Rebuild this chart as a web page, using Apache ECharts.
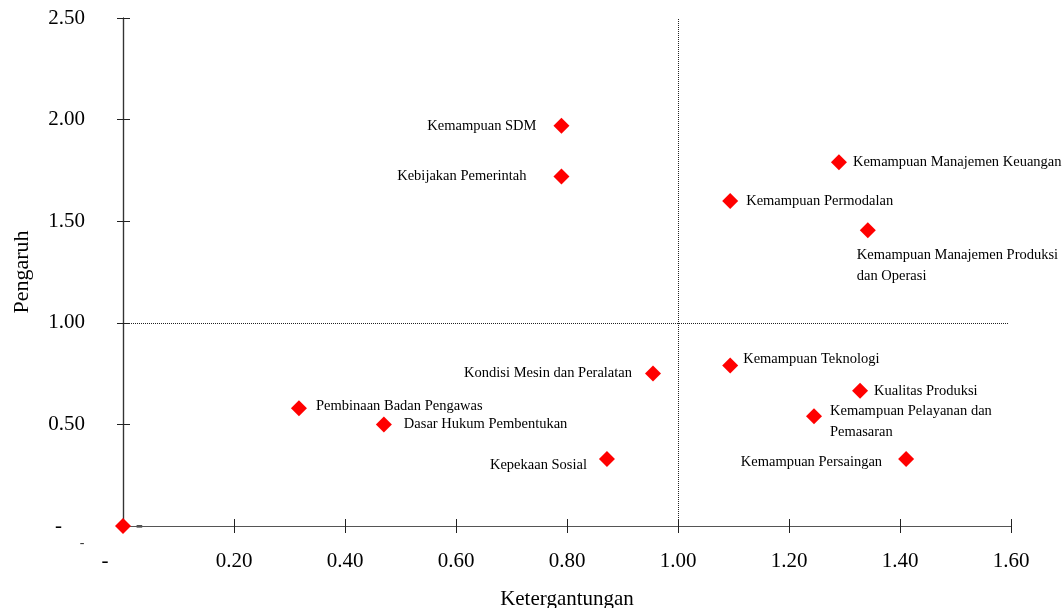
<!DOCTYPE html>
<html>
<head>
<meta charset="utf-8">
<script src="https://cdn.jsdelivr.net/npm/echarts@6/dist/echarts.min.js"></script>
<style>
html,body{margin:0;padding:0;background:#fff;}
#main{width:1063px;height:608px;}
</style>
</head>
<body>
<div id="main"></div>
<script>
// data
var names = [
	'Kemampuan SDM',
	'Kebijakan Pemerintah',
	'Kemampuan Manajemen Keuangan',
	'Kemampuan Permodalan',
	'Kemampuan Manajemen Produksi\ndan Operasi',
	'Kondisi Mesin dan Peralatan',
	'Kemampuan Teknologi',
	'Kualitas Produksi',
	'Kemampuan Pelayanan dan\nPemasaran',
	'Kemampuan Persaingan',
	'Pembinaan Badan Pengawas',
	'Dasar Hukum Pembentukan',
	'Kepekaan Sosial'
];
var ketergantungan = [0.79, 0.79, 1.29, 1.094, 1.342, 0.955, 1.094, 1.328, 1.245, 1.411, 0.317, 0.47, 0.872];
var pengaruh = [1.97, 1.72, 1.79, 1.60, 1.455, 0.75, 0.79, 0.665, 0.54, 0.33, 0.58, 0.50, 0.33];
var xTicks = [0, 0.2, 0.4, 0.6, 0.8, 1.0, 1.2, 1.4, 1.6];
var yTicks = [0, 0.5, 1.0, 1.5, 2.0, 2.5];

// label placement per point (style, not data)
var labelPlace = {
	'Kemampuan SDM': {position: 'left', distance: 17},
	'Kebijakan Pemerintah': {position: 'left', distance: 27},
	'Kemampuan Manajemen Keuangan': {position: 'right', distance: 6},
	'Kemampuan Permodalan': {position: 'right', distance: 8},
	'Kemampuan Manajemen Produksi\ndan Operasi': {position: [-3, 22], align: 'left', verticalAlign: 'top'},
	'Kondisi Mesin dan Peralatan': {position: 'left', distance: 13},
	'Kemampuan Teknologi': {position: 'right', distance: 5, offset: [0, -6]},
	'Kualitas Produksi': {position: 'right', distance: 6},
	'Kemampuan Pelayanan dan\nPemasaran': {position: 'right', distance: 8, offset: [0, 5]},
	'Kemampuan Persaingan': {position: 'left', distance: 16, offset: [0, 3]},
	'Pembinaan Badan Pengawas': {position: 'right', distance: 9, offset: [0, -2]},
	'Dasar Hukum Pembentukan': {position: 'right', distance: 12},
	'Kepekaan Sosial': {position: 'left', distance: 12, offset: [0, 6]}
};

var FONT = '"Liberation Serif", "DejaVu Serif", serif';

var points = [];
for (var i = 0; i < names.length; i++) {
	var lp = labelPlace[names[i]];
	var lab = {show: true};
	for (var k in lp) lab[k] = lp[k];
	points.push({name: names[i], value: [ketergantungan[i], pengaruh[i]], label: lab});
}
// titik asal (0,0)
points.push({name: '', value: [0, 0], label: {show: true, position: 'right', distance: 5, offset: [0, 2], formatter: '=', fontSize: 12, color: '#111'}});

var option = {
	animation: false,
	grid: {left: 123, right: 52, top: 18, bottom: 82, containLabel: false, outerBoundsMode: 'none'},
	xAxis: [{
		type: 'value',
		min: xTicks[0],
		max: xTicks[xTicks.length - 1],
		interval: 0.2,
		name: 'Ketergantungan',
		nameLocation: 'middle',
		nameGap: 63,
		nameTextStyle: {fontFamily: FONT, fontSize: 21, color: '#000'},
		axisLine: {show: true, onZero: false, lineStyle: {color: '#555', width: 1.2}},
		axisTick: {show: true, length: 7, lineStyle: {color: '#222'}},
		axisLabel: {
			margin: 25,
			fontFamily: FONT, fontSize: 21, color: '#000',
			formatter: function (v) { return v === 0 ? '{z|-}' : v.toFixed(2); },
			rich: {z: {fontFamily: FONT, fontSize: 21, color: '#000', padding: [0, 36, 0, 0]}}
		},
		splitLine: {show: false}
	}, {
		type: 'value',
		position: 'bottom',
		offset: 0,
		min: xTicks[0],
		max: xTicks[xTicks.length - 1],
		interval: 0.2,
		axisLine: {show: true, onZero: false, lineStyle: {color: '#555', width: 1.2}},
		axisTick: {show: true, inside: true, length: 7, lineStyle: {color: '#222'}},
		axisLabel: {show: false},
		splitLine: {show: false}
	}],
	yAxis: [{
		type: 'value',
		min: yTicks[0],
		max: yTicks[yTicks.length - 1],
		interval: 0.5,
		name: 'Pengaruh',
		nameLocation: 'middle',
		nameGap: 90,
		nameRotate: 90,
		nameTextStyle: {fontFamily: FONT, fontSize: 22, color: '#000'},
		axisLine: {show: true, onZero: false, lineStyle: {color: '#333', width: 1.2}},
		axisTick: {show: true, length: 6, lineStyle: {color: '#222'}},
		axisLabel: {
			margin: 38,
			fontFamily: FONT, fontSize: 21, color: '#000',
			formatter: function (v) { return v === 0 ? '{z|-}' : v.toFixed(2); },
			rich: {z: {fontFamily: FONT, fontSize: 21, color: '#000', padding: [0, 23, 0, 0]}}
		},
		splitLine: {show: false}
	}, {
		type: 'value',
		position: 'left',
		offset: 0,
		min: yTicks[0],
		max: yTicks[yTicks.length - 1],
		interval: 0.5,
		axisLine: {show: true, onZero: false, lineStyle: {color: '#333', width: 1.2}},
		axisTick: {show: true, inside: true, length: 7, lineStyle: {color: '#222'}},
		axisLabel: {show: false},
		splitLine: {show: false}
	}],
	series: [{
		type: 'scatter',
		symbol: 'diamond',
		symbolSize: 16,
		clip: false,
		itemStyle: {color: '#ff0000', opacity: 1},
		label: {
			formatter: '{b}',
			fontFamily: FONT,
			fontSize: 14.5,
			lineHeight: 21,
			color: '#000'
		},
		data: points,
		markLine: {
			silent: true,
			symbol: 'none',
			label: {show: false},
			lineStyle: {type: [1, 1], color: '#222', width: 1},
			data: [
				[{coord: [1, 0]}, {coord: [1, 2.5]}],
				[{coord: [0, 1]}, {coord: [1.595, 1]}]
			]
		}
	}, {
		// tanda "-" kecil di dekat titik asal
		type: 'scatter',
		symbol: 'circle',
		symbolSize: 2,
		silent: true,
		itemStyle: {color: 'rgba(0,0,0,0)'},
		data: [[0, 0]],
		label: {show: true, position: 'inside', formatter: '-', offset: [-41, 17], fontFamily: FONT, fontSize: 14, color: '#000'}
	}]
};

var mCharts = echarts.init(document.getElementById('main'));
mCharts.setOption(option);
</script>
</body>
</html>
